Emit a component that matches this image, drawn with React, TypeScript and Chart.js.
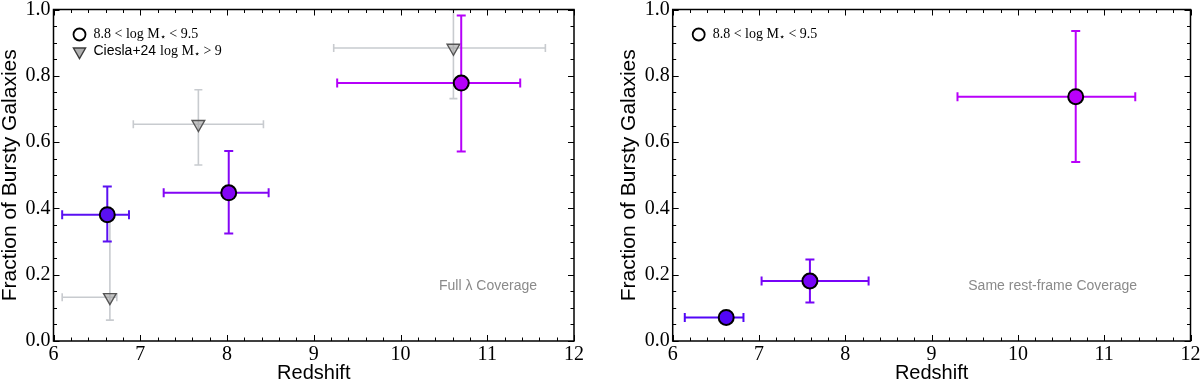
import React, { useEffect, useRef } from 'react';
import { Chart, registerables } from 'chart.js';

Chart.register(...registerables);

// ---------- axis ticks ----------
const xTickValues = [6, 7, 8, 9, 10, 11, 12];
const yTickValues = [0.0, 0.2, 0.4, 0.6, 0.8, 1.0];
const yTickLabels = ['0.0', '0.2', '0.4', '0.6', '0.8', '1.0'];

// ---------- left panel: full lambda coverage (8.8 < log M* < 9.5) ----------
const fullZ = [6.62, 8.02, 10.70];
const fullZLo = [6.10, 7.27, 9.27];
const fullZHi = [6.87, 8.48, 11.38];
const fullFrac = [0.381, 0.447, 0.778];
const fullFracLo = [0.300, 0.324, 0.572];
const fullFracHi = [0.466, 0.573, 0.982];

// ---------- left panel: Ciesla+24 (log M* > 9) ----------
const cieslaZ = [6.65, 7.67, 10.61];
const cieslaZLo = [6.10, 6.92, 9.23];
const cieslaZHi = [6.73, 8.42, 11.67];
const cieslaFrac = [0.132, 0.654, 0.884];
const cieslaFracLo = [0.063, 0.531, 0.731];
const cieslaFracHi = [0.370, 0.758, 1.000];

// ---------- right panel: same rest-frame coverage ----------
const sameZ = [6.62, 7.59, 10.67];
const sameZLo = [6.14, 7.03, 9.30];
const sameZHi = [6.82, 8.27, 11.36];
const sameFrac = [0.071, 0.181, 0.737];
const sameFracLo = [0.071, 0.116, 0.540];
const sameFracHi = [0.071, 0.246, 0.935];

// ---------- text ----------
const xTitle = 'Redshift';
const yTitle = 'Fraction of Bursty Galaxies';
const massLabel = '$8.8 < log M_⋆ < 9.5$';
const cieslaLabel = 'Ciesla+24 $log M_⋆ > 9$';
const fullNote = 'Full λ Coverage';
const sameNote = 'Same rest-frame Coverage';

// ---------- styles ----------
const fullColors = ['#5a10f2', '#8405f5', '#b500f9'];
const sameColors = ['#5206f7', '#7704f7', '#b900fa'];
const SERIF = '"Liberation Serif", "DejaVu Serif", serif';
const SANS = '"Liberation Sans", "DejaVu Sans", sans-serif';

const errorBarPlugin = {
  id: 'errorBars',
  beforeDatasetDraw(chart: any, args: any) {
    const ds: any = chart.data.datasets[args.index];
    const eb = ds.errorBars;
    if (!eb) return;
    const xs = chart.scales.x;
    const ys = chart.scales.y;
    const a = chart.chartArea;
    const ctx = chart.ctx;
    ctx.save();
    ctx.beginPath();
    ctx.rect(a.left, a.top, a.right - a.left, a.bottom - a.top);
    ctx.clip();
    ctx.lineCap = 'butt';
    ds.data.forEach((p: any, i: number) => {
      const color = Array.isArray(ds.errorColor) ? ds.errorColor[i] : ds.errorColor;
      ctx.strokeStyle = color;
      ctx.lineWidth = ds.errorWidth;
      const cx = xs.getPixelForValue(p.x);
      const cy = ys.getPixelForValue(p.y);
      const x0 = xs.getPixelForValue(eb.xLo[i]);
      const x1 = xs.getPixelForValue(eb.xHi[i]);
      const y0 = ys.getPixelForValue(eb.yLo[i]);
      const y1 = ys.getPixelForValue(eb.yHi[i]);
      const c = ds.capHalf;
      ctx.beginPath();
      if (Math.abs(x1 - x0) > 0.5) {
        ctx.moveTo(x0, cy); ctx.lineTo(x1, cy);
        ctx.moveTo(x0, cy - c); ctx.lineTo(x0, cy + c);
        ctx.moveTo(x1, cy - c); ctx.lineTo(x1, cy + c);
      }
      if (Math.abs(y0 - y1) > 0.5) {
        ctx.moveTo(cx, y0); ctx.lineTo(cx, y1);
        ctx.moveTo(cx - c, y0); ctx.lineTo(cx + c, y0);
        ctx.moveTo(cx - c, y1); ctx.lineTo(cx + c, y1);
      }
      ctx.stroke();
    });
    ctx.restore();
  },
};

const framePlugin = {
  id: 'frame',
  afterDatasetsDraw(chart: any) {
    const { ctx, chartArea: a } = chart;
    const xs = chart.scales.x;
    const ys = chart.scales.y;
    ctx.save();
    ctx.strokeStyle = '#000';
    // x ticks (major 1, minor 0.2)
    const nx = Math.round((xs.max - xs.min) / 0.2);
    for (let i = 0; i <= nx; i++) {
      const v = xs.min + i * 0.2;
      const major = i % 5 === 0;
      const len = major ? 6 : 3.5;
      const px = Math.round(xs.getPixelForValue(v)) + 0.5;
      ctx.lineWidth = 1;
      ctx.beginPath();
      ctx.moveTo(px, a.bottom); ctx.lineTo(px, a.bottom - len);
      ctx.moveTo(px, a.top); ctx.lineTo(px, a.top + len);
      ctx.stroke();
    }
    const ny = Math.round((ys.max - ys.min) / 0.05);
    for (let i = 0; i <= ny; i++) {
      const v = ys.min + i * 0.05;
      const major = i % 4 === 0;
      const len = major ? 6 : 3.5;
      const py = Math.round(ys.getPixelForValue(v)) + 0.5;
      ctx.lineWidth = 1;
      ctx.beginPath();
      ctx.moveTo(a.left, py); ctx.lineTo(a.left + len, py);
      ctx.moveTo(a.right, py); ctx.lineTo(a.right - len, py);
      ctx.stroke();
    }
    ctx.lineWidth = 1.5;
    ctx.strokeRect(a.left, a.top, a.right - a.left, a.bottom - a.top);
    ctx.restore();
  },
};

function drawRich(ctx: CanvasRenderingContext2D, text: string, x: number, y: number, size: number) {
  let math = false;
  let cx = x;
  let i = 0;
  while (i < text.length) {
    const ch = text[i];
    if (ch === '$') { math = !math; i++; continue; }
    let sub = false;
    let s = ch;
    if (ch === '_') { sub = true; s = text[i + 1]; i += 2; } else { i++; }
    ctx.font = `${sub ? Math.round(size * 0.72) : size}px ${math ? SERIF : SANS}`;
    ctx.fillText(s, cx, sub ? y + size * 0.22 : y);
    cx += ctx.measureText(s).width;
  }
}

const textPlugin = {
  id: 'texts',
  afterDraw(chart: any, _args: any, opts: any) {
    const { ctx, chartArea: a } = chart;
    ctx.save();
    ctx.fillStyle = '#000';
    // axis titles
    ctx.font = `20px ${SANS}`;
    ctx.textAlign = 'center';
    ctx.textBaseline = 'alphabetic';
    ctx.fillText(xTitle, (a.left + a.right) / 2, 379);
    ctx.save();
    ctx.translate(a.left - 38, (a.top + a.bottom) / 2);
    ctx.rotate(-Math.PI / 2);
    ctx.font = `21px ${SANS}`;
    ctx.fillText(yTitle, 0, 0);
    ctx.restore();

    // legend
    const items = opts.legend || [];
    items.forEach((it: any, k: number) => {
      const my = a.top + 25 + k * 17;
      const mx = a.left + 26;
      ctx.save();
      if (it.marker === 'circle') {
        ctx.beginPath();
        ctx.arc(mx, my, 6, 0, Math.PI * 2);
        ctx.lineWidth = 1.8;
        ctx.strokeStyle = '#000';
        ctx.stroke();
      } else {
        const r = 7;
        ctx.beginPath();
        ctx.moveTo(mx - r * 0.866, my - r * 0.5);
        ctx.lineTo(mx + r * 0.866, my - r * 0.5);
        ctx.lineTo(mx, my + r);
        ctx.closePath();
        ctx.fillStyle = 'rgba(150,150,150,0.75)';
        ctx.fill();
        ctx.lineWidth = 1.4;
        ctx.strokeStyle = '#3c3c3c';
        ctx.stroke();
      }
      ctx.restore();
      ctx.fillStyle = '#000';
      ctx.textAlign = 'left';
      ctx.textBaseline = 'middle';
      drawRich(ctx, it.text, a.left + 40, my, 14);
    });

    // note
    if (opts.note) {
      ctx.fillStyle = '#8a8a8a';
      ctx.font = `14px ${SANS}`;
      ctx.textAlign = 'center';
      ctx.textBaseline = 'middle';
      ctx.fillText(opts.note, a.left + opts.noteX, 286);
    }
    ctx.restore();
  },
};

function makeConfig(datasets: any[], leftW: number, rightPad: number, legend: any[], note: string, noteX: number): any {
  return {
    type: 'scatter',
    data: { datasets },
    plugins: [errorBarPlugin, framePlugin, textPlugin],
    options: {
      animation: false,
      responsive: false,
      maintainAspectRatio: false,
      events: [],
      layout: { padding: { left: 0, top: 6, right: rightPad, bottom: 0 } },
      plugins: {
        legend: { display: false },
        tooltip: { enabled: false },
        texts: { legend, note, noteX },
      },
      scales: {
        x: {
          type: 'linear',
          min: 6,
          max: 12,
          grid: { display: false, drawTicks: false },
          border: { display: false },
          afterBuildTicks: (s: any) => { s.ticks = xTickValues.map((v) => ({ value: v })); },
          ticks: {
            padding: 2,
            color: '#000',
            font: { family: SERIF, size: 20 },
            maxRotation: 0,
            autoSkip: false,
            callback: (v: any) => String(v),
          },
          afterFit: (s: any) => { s.height = 45; s.paddingLeft = 0; s.paddingRight = 0; },
        },
        y: {
          type: 'linear',
          min: 0,
          max: 1,
          grid: { display: false, drawTicks: false },
          border: { display: false },
          afterBuildTicks: (s: any) => { s.ticks = yTickValues.map((v) => ({ value: v })); },
          ticks: {
            padding: 3,
            color: '#000',
            font: { family: SERIF, size: 20 },
            autoSkip: false,
            callback: (_v: any, i: number) => yTickLabels[i],
          },
          afterFit: (s: any) => { s.width = leftW; s.paddingTop = 0; s.paddingBottom = 0; },
        },
      },
    },
  };
}

function mainDataset(label: string, z: number[], f: number[], zLo: number[], zHi: number[], fLo: number[], fHi: number[], colors: string[]) {
  return {
    label,
    data: z.map((x, i) => ({ x, y: f[i] })),
    pointStyle: 'circle',
    pointRadius: 7.5,
    pointBorderWidth: 2,
    pointBorderColor: '#000',
    pointBackgroundColor: colors,
    showLine: false,
    errorBars: { xLo: zLo, xHi: zHi, yLo: fLo, yHi: fHi },
    errorColor: colors,
    errorWidth: 2,
    capHalf: 4.5,
  };
}

function Panel({ config }: { config: any }) {
  const ref = useRef<HTMLCanvasElement | null>(null);
  useEffect(() => {
    if (!ref.current) return;
    const chart = new Chart(ref.current, config);
    return () => chart.destroy();
  }, [config]);
  return <canvas ref={ref} width={600} height={386} style={{ display: 'block', width: 600, height: 386 }} />;
}

const leftConfig = makeConfig(
  [
    mainDataset(massLabel, fullZ, fullFrac, fullZLo, fullZHi, fullFracLo, fullFracHi, fullColors),
    {
      label: cieslaLabel,
      data: cieslaZ.map((x, i) => ({ x, y: cieslaFrac[i] })),
      pointStyle: 'triangle',
      pointRotation: 180,
      pointRadius: 7.3,
      pointBorderWidth: 1.4,
      pointBorderColor: '#555555',
      pointBackgroundColor: 'rgba(160,160,160,0.6)',
      showLine: false,
      errorBars: { xLo: cieslaZLo, xHi: cieslaZHi, yLo: cieslaFracLo, yHi: cieslaFracHi },
      errorColor: '#c8cbcf',
      errorWidth: 1.6,
      capHalf: 4,
    },
  ],
  53.5,
  26,
  [
    { marker: 'circle', text: massLabel },
    { marker: 'triangle', text: cieslaLabel },
  ],
  fullNote,
  434.5
);

const rightConfig = makeConfig(
  [mainDataset(massLabel, sameZ, sameFrac, sameZLo, sameZHi, sameFracLo, sameFracHi, sameColors)],
  72.7,
  8.3,
  [{ marker: 'circle', text: massLabel }],
  sameNote,
  380
);

export default function App() {
  return (
    <div style={{ position: 'absolute', left: 0, top: 0, width: 1200, height: 386, display: 'flex', background: '#fff' }}>
      <Panel config={leftConfig} />
      <Panel config={rightConfig} />
    </div>
  );
}
